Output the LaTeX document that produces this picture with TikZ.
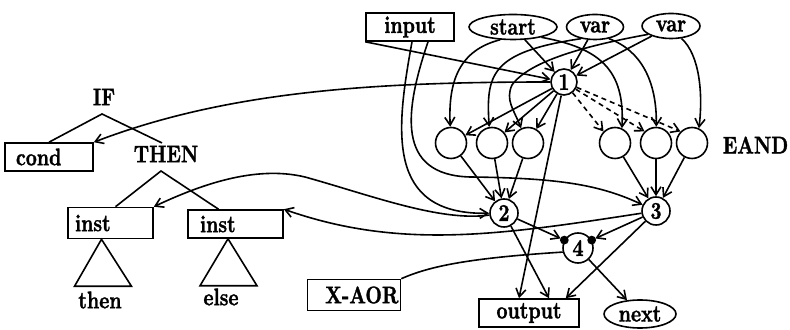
\documentclass[tikz,border=0pt]{standalone}
\usepackage{graphicx}
\usepackage{fontspec}
\usetikzlibrary{arrows.meta, shapes.geometric}
\newfontfamily\gras[FakeBold=1.5]{lmroman10-bold.otf}
\newcommand{\mot}[1]{\scalebox{0.96}[1.2]{\gras #1}}

\begin{document}
\begin{tikzpicture}[x=0.5pt, y=-0.5pt, line width=0.8pt,
    fl/.style={-{Straight Barb[length=4pt,width=5pt]}},
    boite/.style={draw, rectangle, inner ysep=0pt, minimum height=14pt},
    ovale/.style={draw, ellipse, inner sep=0pt, minimum height=12.5pt},
    rond/.style={draw, circle, inner sep=0pt, minimum size=14pt},
    porte/.style={draw, circle, inner sep=0pt, minimum size=15.5pt},
    etiq/.style={inner sep=1pt}]
    \useasboundingbox (0,0) rectangle (790,330);
    % entrees et sorties
    \node[boite, inner xsep=0pt, minimum width=44pt] (input) at (410,27) {\mot{input}};
    \node[ovale, minimum width=44pt] (start) at (513,27) {\mot{start}};
    \node[ovale, minimum width=28.5pt] (var1) at (595,27) {\mot{var}};
    \node[ovale, minimum width=29pt] (var2) at (671,26) {\mot{var}};
    \node[boite, inner xsep=0pt, minimum width=50pt] (output) at (529,313) {\mot{output}};
    \node[ovale, minimum width=36pt, minimum height=14pt] (next) at (640,314) {\mot{next}};
    \node[boite, inner xsep=1pt, text width=44.5pt, align=right, minimum height=15.5pt] (xaor) at (354,295) {\mot{X-AOR}};
    % noeuds du graphe
    \node[rond, minimum size=13pt] (n1) at (564,82) {\mot{1}};
    \foreach \x/\n in {451/c1, 492/c2, 528/c3, 615/c4, 656/c5, 692/c6}
        \node[porte] (\n) at (\x,143) {};
    \node[etiq, anchor=west] (eand) at (720,145) {\mot{EAND}};
    \node[rond] (n2) at (504,213) {\mot{2}};
    \node[rond] (n3) at (656,211) {\mot{3}};
    \node[rond, minimum size=15pt] (n4) at (578,248) {\mot{4}};
    % arbre IF
    \node[etiq] (if) at (104,97) {\mot{IF}};
    \node[etiq] (thenl) at (166,154) {\mot{THEN}};
    \node[boite, inner xsep=5.5pt, text width=33pt, align=left] (cond) at (49,157) {\mot{cond}};
    \node[boite, inner xsep=3.5pt, text width=35.5pt, align=left, minimum height=15.5pt] (inst1) at (110.5,223) {\mot{inst}};
    \node[boite, inner xsep=6pt, text width=35.5pt, align=left] (inst2) at (235.5,224) {\mot{inst}};
    \coordinate (ifsommet) at (102,114);
    \coordinate (thensommet) at (161,171);
    \draw (cond.north) -- (ifsommet) -- ([xshift=-2pt]thenl.north);
    \draw ([xshift=2.5pt]inst1.north) -- (thensommet) -- ([xshift=-8.5pt]inst2.north);
    \draw ([xshift=-4.5pt]inst1.south) -- ++(-27,47) -- ++(57,0) -- cycle;
    \draw ([xshift=-3.75pt]inst2.south) -- ++(-28,47) -- ++(57,0) -- cycle;
    \node[etiq] (thenbr) at (100,300) {\mot{then}};
    \node[etiq] (elsebr) at (221,297) {\mot{else}};
    % vers 1
    \draw[fl] (input.south west) -- (n1);
    \draw[fl] (start) -- (n1);
    \draw[fl] (var1) -- (n1);
    \draw[fl] (var2) -- (n1);
    % vers les portes
    \draw[fl] (start.-135) .. controls (460,50) and (448,80) .. (c1);
    \draw[fl] (var1.-140) .. controls (490,52) and (486,75) .. (c2.100);
    \draw[fl] (var2.-160) .. controls (590,45) and (530,60) .. (512,85) .. controls (505,100) and (514,110) .. (c3.115);
    \draw[fl] (start.-20) .. controls (600,48) and (625,70) .. (c4.65);
    \draw[fl] (var1.-40) .. controls (640,50) and (657,80) .. (c5);
    \draw[fl] (var2.-50) .. controls (700,55) and (703,95) .. (c6.65);
    \foreach \p in {c1,c2,c3}
        \draw[fl] (n1) -- (\p);
    \foreach \p in {c4,c5,c6}
        \draw[fl, dashed, dash pattern=on 2.5pt off 2pt] (n1) -- (\p.135);
    \foreach \p in {c1,c2,c3}
        \draw[fl] (\p) -- (n2);
    \foreach \p in {c4,c5,c6}
        \draw[fl] (\p) -- (n3);
    % entrees vers 2 et 3
    \draw[fl] ([xshift=1pt]input.south) .. controls (396,130) and (385,215) .. (n2);
    \draw[fl] ([xshift=9pt]input.south) .. controls (405,110) and (395,175) .. (470,177) .. controls (560,178) and (600,185) .. (n3);
    % sorties
    \draw[fl] (n1) .. controls (380,82) and (230,90) .. (cond.north east);
    \draw[fl] (n1) -- ([xshift=-5pt]output.north);
    \draw[fl] (n2) .. controls (440,222) and (370,195) .. (305,177) .. controls (255,165) and (200,185) .. (inst1.north east);
    \draw[fl] (n3) .. controls (500,235) and (400,250) .. (inst2.north east);
    \draw[fl, shorten >=2pt] (n2) -- (n4.150);
    \draw[fl, shorten >=2pt] (n3) -- (n4.30);
    \fill (n4.150) circle (2.2pt);
    \fill (n4.30) circle (2.2pt);
    \draw[fl] (n2) -- ([xshift=10pt]output.north);
    \draw[fl] (n3) -- ([xshift=-7pt]output.north east);
    \draw[fl] (n4) -- (next);
    \draw (xaor.north east) .. controls (430,266) and (470,258) .. (n4.195);
\end{tikzpicture}
\end{document}
